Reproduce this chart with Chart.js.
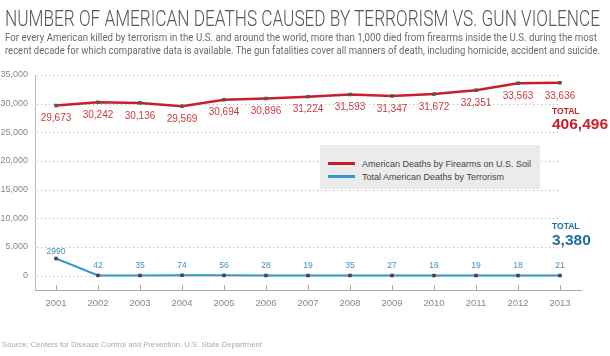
<!DOCTYPE html>
<html><head><meta charset="utf-8">
<script src="https://cdn.jsdelivr.net/npm/chart.js@4.4.1/dist/chart.umd.min.js"></script>
<style>
html,body{margin:0;padding:0;background:#fff;}
body{width:610px;height:356px;position:relative;overflow:hidden;font-family:"Liberation Sans",Arial,sans-serif;}
#wrap{position:absolute;left:0;top:0;width:610px;height:356px;}
.fit{position:absolute;white-space:nowrap;transform-origin:0 0;}
#title{left:5px;top:6px;font-size:22px;color:#555;font-family:Roboto,"Liberation Sans",sans-serif;font-weight:300;}
.sub{left:5px;font-size:10.5px;color:#6a6a6a;font-family:Roboto,"Liberation Sans",sans-serif;font-weight:400;}
#source{left:2px;top:340px;font-size:8px;color:#aaa;}
#legend{position:absolute;left:320px;top:145px;width:220px;height:44px;background:#ebebeb;}
.li{position:absolute;left:8px;font-size:9px;color:#444;white-space:nowrap;}
.li span{display:inline-block;width:27px;height:2.5px;vertical-align:middle;margin-right:7px;position:relative;top:-1px;}
.tot{position:absolute;left:552px;font-weight:bold;white-space:nowrap;}
</style></head>
<body>
<div id="wrap"><canvas id="c" width="610" height="356"></canvas></div>
<div id="title" class="fit" data-w="595">NUMBER OF AMERICAN DEATHS CAUSED BY TERRORISM VS. GUN VIOLENCE</div>
<div class="sub fit" style="top:31px" data-w="592">For every American killed by terrorism in the U.S. and around the world, more than 1,000 died from firearms inside the U.S. during the most</div>
<div class="sub fit" style="top:44px" data-w="595">recent decade for which comparative data is available. The gun fatalities cover all manners of death, including homicide, accident and suicide.</div>
<div id="source" class="fit" data-w="260">Source: Centers for Disease Control and Prevention, U.S. State Department</div>
<div id="legend">
  <div class="li" style="top:14px"><span style="background:#c8202a"></span>American Deaths by Firearms on U.S. Soil</div>
  <div class="li" style="top:27px"><span style="background:#3399cc"></span>Total American Deaths by Terrorism</div>
</div>
<div class="tot" style="top:106px;font-size:8.5px;color:#c8202a">TOTAL</div>
<div class="tot" style="top:115px;font-size:15.5px;color:#c8202a">406,496</div>
<div class="tot" style="top:221px;font-size:8.5px;color:#1f6fa5">TOTAL</div>
<div class="tot" style="top:231px;font-size:15.5px;color:#1f6fa5">3,380</div>
<script>
const years = ["2001","2002","2003","2004","2005","2006","2007","2008","2009","2010","2011","2012","2013"];
const firearmDeaths = [29673,30242,30136,29569,30694,30896,31224,31593,31347,31672,32351,33563,33636];
const terrorismDeaths = [2990,42,35,74,56,28,19,35,27,16,19,18,21];
const yTicks = [0,5000,10000,15000,20000,25000,30000,35000];

document.querySelectorAll('.fit').forEach(el=>{
  const w = el.getBoundingClientRect().width;
  const t = +el.dataset.w;
  el.style.transform = 'scaleX(' + (t / w) + ')';
});

const fmt = v => v.toLocaleString('en-US');

const extras = {
  id:'extras',
  beforeDatasetsDraw(chart){
    const {ctx, chartArea, scales:{x,y}} = chart;
    const xEnd = x.getPixelForValue(years.length-1);
    ctx.save();
    ctx.strokeStyle = '#b0b0b0';
    ctx.lineWidth = 1;
    ctx.setLineDash([1,3]);
    yTicks.forEach(v=>{
      const py = Math.round(y.getPixelForValue(v)) + 0.5;
      ctx.beginPath(); ctx.moveTo(chartArea.left+2, py); ctx.lineTo(xEnd, py); ctx.stroke();
    });
    ctx.setLineDash([]);
    ctx.strokeStyle = '#aaa';
    years.forEach((yr,i)=>{
      const px = Math.round(x.getPixelForValue(i)) + 0.5;
      ctx.beginPath(); ctx.moveTo(px, chartArea.bottom-5); ctx.lineTo(px, chartArea.bottom); ctx.stroke();
    });
    ctx.restore();
  },
  afterDatasetsDraw(chart){
    const {ctx} = chart;
    ctx.save();
    ctx.textAlign = 'center';
    ctx.textBaseline = 'middle';
    const m0 = chart.getDatasetMeta(0);
    ctx.font = '10px "Liberation Sans", Arial, sans-serif';
    ctx.fillStyle = '#c83a40';
    m0.data.forEach((p,i)=>{ ctx.fillText(fmt(firearmDeaths[i]), p.x, p.y + 13); });
    const m1 = chart.getDatasetMeta(1);
    ctx.font = '8.5px "Liberation Sans", Arial, sans-serif';
    ctx.fillStyle = '#4a8fb8';
    m1.data.forEach((p,i)=>{ ctx.fillText(String(terrorismDeaths[i]), p.x, p.y - (i===0 ? 7 : 10)); });
    ctx.restore();
  }
};

new Chart(document.getElementById('c'), {
  type:'line',
  data:{
    labels: years,
    datasets:[
      {label:'American Deaths by Firearms on U.S. Soil', data: firearmDeaths, borderColor:'#c8202a', borderWidth:2.5,
       pointStyle:'rect', pointRadius:2.5, pointBackgroundColor:'#555', pointBorderColor:'#555', pointBorderWidth:0, tension:0},
      {label:'Total American Deaths by Terrorism', data: terrorismDeaths, borderColor:'#3399cc', borderWidth:2,
       pointStyle:'rect', pointRadius:2.5, pointBackgroundColor:'#444', pointBorderColor:'#444', pointBorderWidth:0, tension:0}
    ]
  },
  options:{
    responsive:false,
    animation:false,
    layout:{padding:{top:75,right:29,bottom:41,left:0}},
    plugins:{legend:{display:false}, tooltip:{enabled:false}},
    scales:{
      x:{
        offset:true,
        grid:{display:false, drawTicks:false},
        border:{display:true, color:'#aaa', width:1},
        ticks:{color:'#888', font:{size:9.5, family:'"Liberation Sans", Arial, sans-serif'}, padding:8, maxRotation:0},
        afterFit(s){ s.height = 25; }
      },
      y:{
        min:-2500, max:35000,
        grid:{display:false, drawTicks:false},
        border:{display:true, color:'#bbb', width:1},
        ticks:{color:'#888', padding:7, font:{size:9, family:'"Liberation Sans", Arial, sans-serif'},
               callback:v=>fmt(v)},
        afterBuildTicks(s){ s.ticks = yTicks.map(v=>({value:v})); },
        afterFit(s){ s.width = 35; }
      }
    }
  },
  plugins:[extras]
});
</script>
</body></html>
